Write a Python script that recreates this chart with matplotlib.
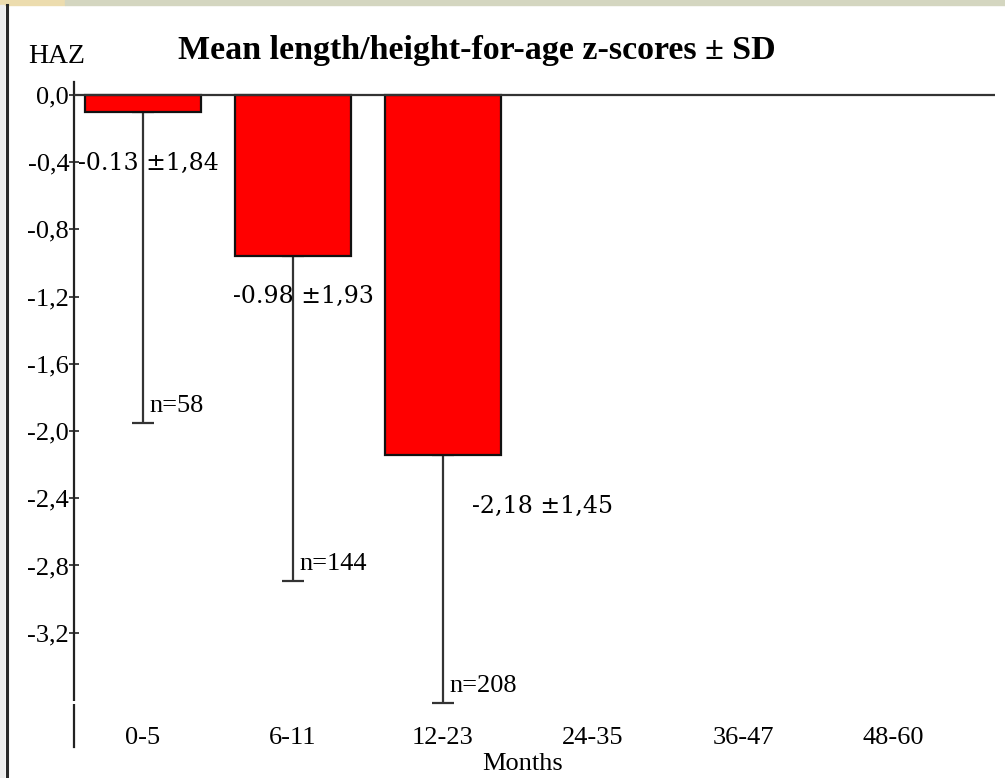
import matplotlib.pyplot as plt
from matplotlib.patches import Rectangle
from matplotlib.lines import Line2D

# data
categories = ["0-5", "6-11", "12-23", "24-35", "36-47", "48-60"]
mean_haz = [-0.10, -0.96, -2.14]
sd_haz = [1.85, 1.93, 1.48]
n_labels = ["n=58", "n=144", "n=208"]
value_labels = ["-0.13 \u00b11,84", "-0.98 \u00b11,93", "-2,18 \u00b11,45"]
y_ticks = [0.0, -0.4, -0.8, -1.2, -1.6, -2.0, -2.4, -2.8, -3.2]

serif = "Liberation Serif"

fig = plt.figure(figsize=(10.05, 7.78), dpi=100)
W, H = 1005, 778

# window decorations: top band and left border
fig.patches.append(Rectangle((0, 1 - 5 / H), 65 / W, 5 / H, transform=fig.transFigure,
                             color="#ecdcae", zorder=0))
fig.patches.append(Rectangle((65 / W, 1 - 5 / H), 1, 5 / H, transform=fig.transFigure,
                             color="#d4d6c0", zorder=0))
fig.patches.append(Rectangle((0, 0), 4 / W, 1 - 5 / H, transform=fig.transFigure,
                             color="#eeeeee", zorder=0))
fig.lines.append(Line2D([6.5 / W, 6.5 / W], [0, 1 - 5 / H], transform=fig.transFigure,
                        color="#2a2a2a", lw=2.2))

ax = fig.add_axes([74 / W, 1 - 747 / H, 921 / W, 665 / H])
x = list(range(len(mean_haz)))
ax.bar(x, mean_haz, width=0.77, color="#ff0000", edgecolor="#111111", linewidth=1.6, zorder=2)
ax.errorbar(x, mean_haz, yerr=[sd_haz, [0] * len(sd_haz)], fmt="none", ecolor="#333333",
            elinewidth=1.6, capsize=8, capthick=1.6, zorder=1)
ax.axhline(0, color="#333333", lw=1.6, zorder=3)

ax.set_xlim(-0.46, 5.68)
ax.set_ylim(-3.88, 0.077)
ax.set_xticks(range(len(categories)))
ax.set_xticklabels(categories, fontfamily=serif, fontsize=19)
ax.tick_params(axis="x", length=0, pad=-14.5)
ax.set_yticks(y_ticks)
ax.set_yticklabels([f"{v:.1f}".replace(".", ",") for v in y_ticks], fontfamily=serif, fontsize=19)
ax.tick_params(axis="y", direction="inout", length=7, width=1.2, pad=0, color="#222222")

for s in ["top", "right", "bottom"]:
    ax.spines[s].set_visible(False)
ax.spines["left"].set_color("#222222")
ax.spines["left"].set_linewidth(1.6)
# small break in the axis line
ax.plot([-0.46, -0.46], [-3.608, -3.626], color="white", lw=3, zorder=5, clip_on=False,
        solid_capstyle="butt")

# value labels
label_pos = [(-0.433, -0.405), (0.60, -1.20), (2.19, -2.45)]
for (lx, ly), txt in zip(label_pos, value_labels):
    ax.text(lx, ly, txt, fontfamily="DejaVu Serif", fontsize=17, va="center", ha="left")

for i, (m, s, txt) in enumerate(zip(mean_haz, sd_haz, n_labels)):
    ax.annotate(txt, (i, m - s), xytext=(6, 11), textcoords="offset pixels",
                fontfamily=serif, fontsize=19, va="baseline", ha="left")

fig.text(28 / W, 1 - 63 / H, "HAZ", fontfamily=serif, fontsize=20, va="baseline", ha="left")
fig.text(178 / W, 1 - 59 / H, "Mean length/height-for-age z-scores \u00b1 SD",
         fontfamily=serif, fontsize=24.5, fontweight="bold", va="baseline", ha="left")
fig.text(482 / W, 1 - 770 / H, "Months", fontfamily=serif, fontsize=19, va="baseline", ha="left")

fig.savefig("out.png", dpi=100)
